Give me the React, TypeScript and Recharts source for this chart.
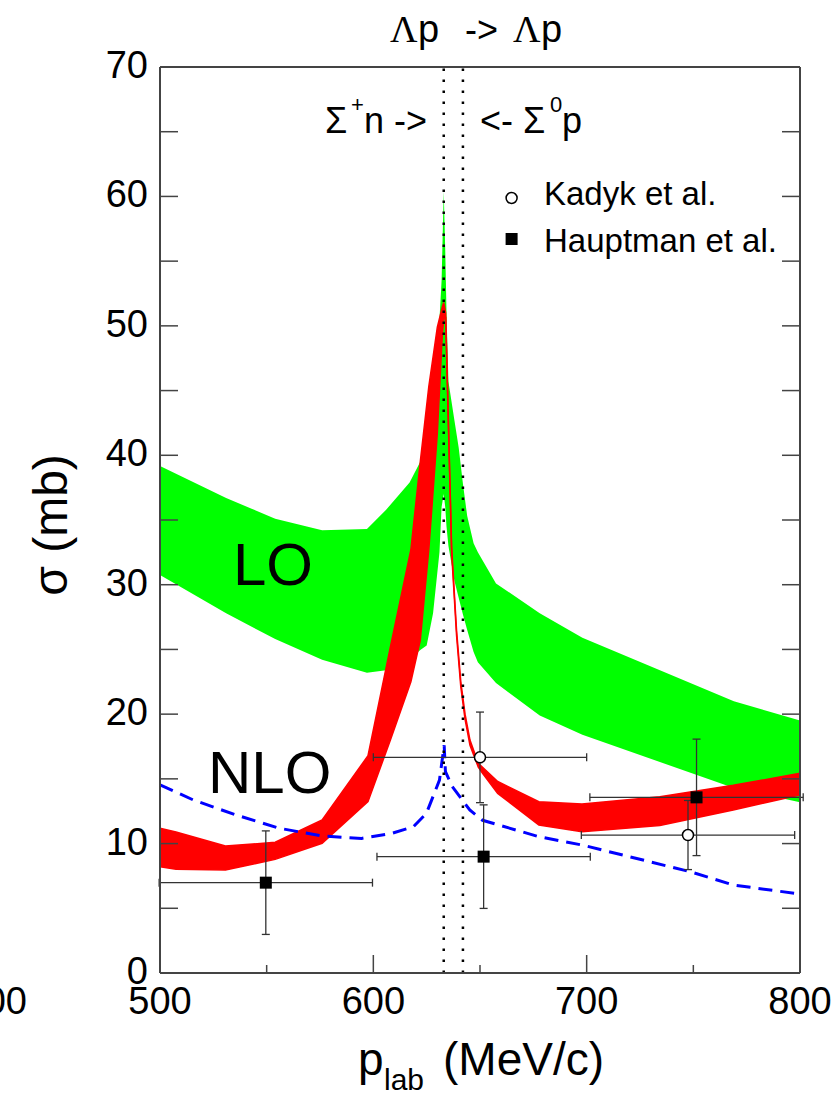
import React from 'react';
import {
  ComposedChart,
  Area,
  Line,
  Scatter,
  XAxis,
  YAxis,
  ReferenceLine,
  ErrorBar,
} from 'recharts';

// ---------- data ----------
// LO band (green)
const loX = [500, 531, 554, 576, 597, 606, 617, 622, 625, 628, 631, 632, 633, 633.7, 634.3, 635.2, 638, 640, 642, 644, 647, 649, 657.5, 678, 698, 769, 800];
const loLow = [30.75, 27.8, 25.8, 24.2, 23.2, 23.4, 24.2, 24.95, 25.3, 27.8, 32.5, 36, 37, 36, 34.5, 33, 30.3, 29, 27.7, 26.5, 24.8, 24, 22.4, 19.9, 18.4, 14.3, 13.2];
const loHigh = [39.17, 36.7, 35.1, 34.2, 34.3, 35.8, 37.9, 39.5, 42.3, 45.7, 50.5, 53.5, 60.4, 55.9, 51, 45.7, 42.7, 40.6, 37.8, 35.3, 33.2, 32.5, 30.1, 27.8, 25.9, 21.0, 19.5];

// NLO band (red)
const nloX = [500, 507.5, 530.7, 554, 576, 597.5, 608, 617.6, 622, 626, 630, 632.4, 633, 633.9, 636.7, 639, 641, 643, 645.3, 649.2, 651.2, 658.3, 677.6, 697.8, 734.3, 768.7, 800];
const nloHigh = [11.18, 10.9, 9.81, 10.1, 11.82, 16.79, 25.2, 32.7, 39.5, 45.3, 49.9, 51.5, 51.8, 51, 32.9, 26.5, 22.5, 20, 18, 16.2, 15.9, 14.8, 13.24, 13.06, 13.62, 14.5, 15.43];
const nloLow = [8.21, 8.01, 7.96, 8.78, 10.02, 13.24, 18.0, 22.5, 25.7, 32.7, 41.7, 49.5, 50.5, 50.6, 32.5, 26.1, 22.1, 19.6, 17.6, 15.9, 15.43, 13.88, 11.44, 10.92, 11.39, 12.6, 13.75];

// blue dashed curve
const blueX = [500, 515.6, 535.8, 556, 576.3, 594.5, 608.7, 618.8, 624.9, 631, 633.2, 633.8, 637, 645.2, 651.2, 677.6, 697.8, 748.4, 768.7, 800];
const blueY = [14.53, 13.37, 12.2, 11.18, 10.58, 10.4, 10.79, 11.3, 12.34, 14.9, 17.6, 15.55, 14.4, 12.6, 11.8, 10.53, 9.89, 7.83, 6.8, 6.1];

// Kadyk et al. (open circles)
const kadykX = [650, 747.5];
const kadykY = [16.66, 10.66];
const kadykXErr = [50, 50];
const kadykYErr = [3.5, 2.67];

// Hauptman et al. (filled squares)
const hauptX = [549.6, 651.7, 751.5];
const hauptY = [6.98, 8.99, 13.57];
const hauptXErr = [50, 50, 50];
const hauptYErr = [4, 4, 4.5];

const xTicks = [500, 550, 600, 650, 700, 750, 800];
const xMajor = [500, 600, 700, 800];
const yTicks = [0, 5, 10, 15, 20, 25, 30, 35, 40, 45, 50, 55, 60, 65, 70];
const yMajor = [0, 10, 20, 30, 40, 50, 60, 70];
const thresholds = [633, 642];

const loData = loX.map((x, i) => ({ x, r: [loLow[i], loHigh[i]] }));
const nloData = nloX.map((x, i) => ({ x, r: [nloLow[i], nloHigh[i]] }));
const blueData = blueX.map((x, i) => ({ x, y: blueY[i] }));
const kadykData = kadykX.map((x, i) => ({ x, y: kadykY[i], ex: kadykXErr[i], ey: kadykYErr[i] }));
const hauptData = hauptX.map((x, i) => ({ x, y: hauptY[i], ex: hauptXErr[i], ey: hauptYErr[i] }));

// ---------- styles ----------
const FONT = '"Liberation Sans", Arial, Helvetica, sans-serif';
const SERIF = '"Liberation Serif", "Times New Roman", serif';
const FRAME = '#444';

const BottomTick = (props: any) => {
  const { x, y, payload } = props;
  const v = payload.value;
  const major = xMajor.includes(v);
  return (
    <g>
      <line x1={x} x2={x} y1={y} y2={y - (major ? 18 : 8)} stroke={FRAME} strokeWidth={1.5} />
      {major && (
        <text x={x} y={y + 41} textAnchor="middle" fontSize={38} fontFamily={FONT} fill="#000">
          {v}
        </text>
      )}
    </g>
  );
};

const TopTick = (props: any) => {
  const { x, y, payload } = props;
  const major = xMajor.includes(payload.value);
  return <line x1={x} x2={x} y1={y} y2={y + (major ? 18 : 8)} stroke={FRAME} strokeWidth={1.5} />;
};

const LeftTick = (props: any) => {
  const { x, y, payload } = props;
  const v = payload.value;
  const major = yMajor.includes(v);
  return (
    <g>
      <line x1={x} x2={x + 18} y1={y} y2={y} stroke={FRAME} strokeWidth={1.5} />
      {major && (
        <text x={x - 12} y={y + 11} textAnchor="end" fontSize={38} fontFamily={FONT} fill="#000">
          {v}
        </text>
      )}
    </g>
  );
};

const RightTick = (props: any) => {
  const { x, y } = props;
  return <line x1={x} x2={x - 18} y1={y} y2={y} stroke={FRAME} strokeWidth={1.5} />;
};

const CircleShape = (p: any) => (
  <circle cx={p.cx} cy={p.cy} r={5.5} fill="#fff" stroke="#000" strokeWidth={1.5} />
);
const SquareShape = (p: any) => <rect x={p.cx - 6} y={p.cy - 6} width={12} height={12} fill="#000" />;

const Annotations = () => (
  <svg
    width={834}
    height={1097}
    style={{ position: 'absolute', left: 0, top: 0, pointerEvents: 'none', overflow: 'hidden' }}
  >
    <g fontFamily={FONT} fill="#000">
      {/* title */}
      <text x={390} y={42} fontSize={38} fontFamily={SERIF}>Λ</text>
      <text x={418} y={42} fontSize={38}>p</text>
      <text x={465} y={42} fontSize={36}>-&gt;</text>
      <text x={513} y={42} fontSize={38} fontFamily={SERIF}>Λ</text>
      <text x={541} y={42} fontSize={38}>p</text>

      {/* thresholds */}
      <text x={325} y={133} fontSize={36}>Σ</text>
      <text x={351} y={112} fontSize={22}>+</text>
      <text x={364} y={133} fontSize={36}>n -&gt;</text>
      <text x={480} y={133} fontSize={36}>&lt;- Σ</text>
      <text x={550} y={112} fontSize={22}>0</text>
      <text x={562} y={133} fontSize={36}>p</text>

      {/* legend */}
      <circle cx={511.6} cy={198} r={5.5} fill="#fff" stroke="#000" strokeWidth={1.5} />
      <text x={544} y={205} fontSize={33}>Kadyk et al.</text>
      <rect x={505.6} y={233} width={12} height={12} fill="#000" />
      <text x={544} y={252} fontSize={33}>Hauptman et al.</text>

      {/* band labels */}
      <text x={233} y={585} fontSize={60}>LO</text>
      <text x={208} y={793} fontSize={60}>NLO</text>

      {/* axis titles */}
      <text transform="translate(67,525) rotate(-90)" textAnchor="middle" fontSize={48}>σ (mb)</text>
      <text x={358} y={1075} fontSize={46}>p</text>
      <text x={384} y={1090} fontSize={30}>lab</text>
      <text x={443} y={1075} fontSize={46}>(MeV/c)</text>

      {/* clipped neighbouring tick label */}
      <text x={27} y={1014} textAnchor="end" fontSize={38}>00</text>
    </g>
  </svg>
);

export default function App() {
  return (
    <div style={{ position: 'absolute', left: 0, top: 0, width: 834, height: 1097, background: '#fff' }}>
      <ComposedChart
        width={834}
        height={1097}
        margin={{ top: 57, right: 24, bottom: 84, left: 100 }}
      >
        <XAxis
          dataKey="x"
          type="number"
          domain={[500, 800]}
          ticks={xTicks}
          interval={0}
          allowDataOverflow
          height={40}
          tickSize={0}
          tickMargin={0}
          tickLine={false}
          axisLine={{ stroke: FRAME, strokeWidth: 2 }}
          tick={<BottomTick />}
        />
        <XAxis
          xAxisId="top"
          orientation="top"
          type="number"
          domain={[500, 800]}
          ticks={xTicks}
          interval={0}
          allowDataOverflow
          height={10}
          tickSize={0}
          tickMargin={0}
          tickLine={false}
          axisLine={{ stroke: FRAME, strokeWidth: 2 }}
          tick={<TopTick />}
        />
        <YAxis
          dataKey="y"
          type="number"
          domain={[0, 70]}
          ticks={yTicks}
          interval={0}
          allowDataOverflow
          width={60}
          tickSize={0}
          tickMargin={0}
          tickLine={false}
          axisLine={{ stroke: FRAME, strokeWidth: 2 }}
          tick={<LeftTick />}
        />
        <YAxis
          yAxisId="right"
          orientation="right"
          type="number"
          domain={[0, 70]}
          ticks={yTicks}
          interval={0}
          allowDataOverflow
          width={10}
          tickSize={0}
          tickMargin={0}
          tickLine={false}
          axisLine={{ stroke: FRAME, strokeWidth: 2 }}
          tick={<RightTick />}
        />

        <Area
          data={loData}
          dataKey="r"
          type="linear"
          fill="#00ff00"
          fillOpacity={1}
          stroke="none"
          isAnimationActive={false}
        />
        <Area
          data={nloData}
          dataKey="r"
          type="linear"
          fill="#ff0000"
          fillOpacity={1}
          stroke="#ff0000"
          strokeWidth={1.5}
          isAnimationActive={false}
        />
        <Line
          data={blueData}
          dataKey="y"
          type="linear"
          stroke="#0000ff"
          strokeWidth={3}
          strokeDasharray="14 8"
          dot={false}
          isAnimationActive={false}
        />
        {thresholds.map((t) => (
          <ReferenceLine key={t} x={t} stroke="#000" strokeWidth={2.5} strokeDasharray="2.5 8.5" />
        ))}
        <Scatter data={kadykData} isAnimationActive={false} shape={CircleShape}>
          <ErrorBar dataKey="ex" direction="x" width={4} stroke="#333" strokeWidth={1.3} />
          <ErrorBar dataKey="ey" direction="y" width={4} stroke="#333" strokeWidth={1.3} />
        </Scatter>
        <Scatter data={hauptData} isAnimationActive={false} shape={SquareShape}>
          <ErrorBar dataKey="ex" direction="x" width={4} stroke="#333" strokeWidth={1.3} />
          <ErrorBar dataKey="ey" direction="y" width={4} stroke="#333" strokeWidth={1.3} />
        </Scatter>
      </ComposedChart>
      <Annotations />
    </div>
  );
}
